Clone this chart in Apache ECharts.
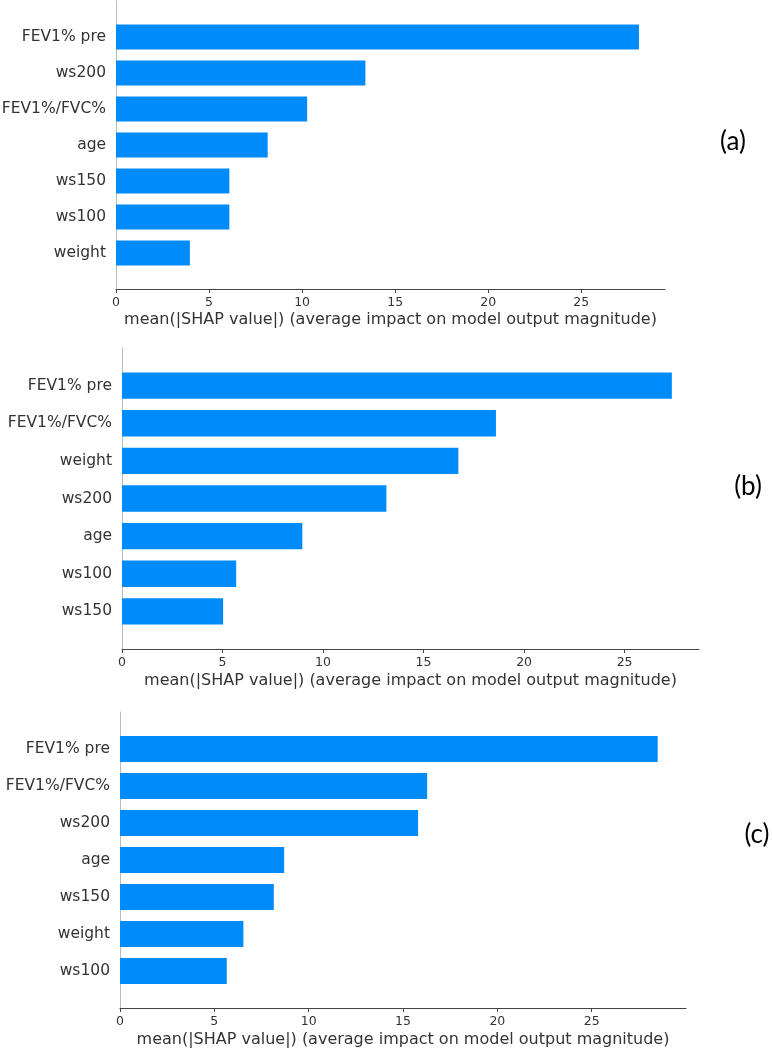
<!DOCTYPE html>
<html>
<head>
<meta charset="utf-8">
<script src="https://cdn.jsdelivr.net/npm/echarts@6/dist/echarts.min.js"></script>
<style>
html,body{margin:0;padding:0;background:#fff;}
#chart{width:772px;height:1052px;}
</style>
</head>
<body>
<div id="chart"></div>
<script>
// Panel (a) — listed top to bottom
var catsA = ['FEV1% pre', 'ws200', 'FEV1%/FVC%', 'age', 'ws150', 'ws100', 'weight'];
var valsA = [28.1, 13.4, 10.27, 8.15, 6.09, 6.09, 3.97];
// Panel (b)
var catsB = ['FEV1% pre', 'FEV1%/FVC%', 'weight', 'ws200', 'age', 'ws100', 'ws150'];
var valsB = [27.35, 18.6, 16.73, 13.15, 8.97, 5.68, 5.03];
// Panel (c)
var catsC = ['FEV1% pre', 'FEV1%/FVC%', 'ws200', 'age', 'ws150', 'weight', 'ws100'];
var valsC = [28.5, 16.28, 15.8, 8.7, 8.15, 6.54, 5.66];

var tickValues = [0, 5, 10, 15, 20, 25];
var xAxisName = 'mean(|SHAP value|) (average impact on model output magnitude)';
var panelLabels = ['(a)', '(b)', '(c)'];

var panels = [
  {cats: catsA, vals: valsA, max: 29.5, grid: {left: 116, top: 1, width: 549, height: 288}, nameGap: 23, lab: [733, 142]},
  {cats: catsB, vals: valsB, max: 28.7, grid: {left: 122, top: 348, width: 577, height: 301}, nameGap: 24, lab: [748, 487]},
  {cats: catsC, vals: valsC, max: 30.0, grid: {left: 120, top: 712, width: 566, height: 296}, nameGap: 24, lab: [757, 835]}
];

var textColor = '#333333';
var font = 'DejaVu Sans';
var option = {animation: false, grid: [], xAxis: [], yAxis: [], series: [], graphic: []};

panels.forEach(function (p, i) {
  // bottom-to-top order, padded with an empty slot above and below (matplotlib ylim)
  var cats = [' '].concat(p.cats.slice().reverse()).concat(['  ']);
  var vals = [null].concat(p.vals.slice().reverse()).concat([null]);
  var g = Object.assign({outerBoundsMode: 'none', containLabel: false}, p.grid);
  option.grid.push(g);
  option.xAxis.push({
    type: 'value', gridIndex: i, min: 0, max: p.max, interval: 5,
    axisLine: {show: true, lineStyle: {color: '#444', width: 1.2}},
    axisTick: {show: true, length: 4, lineStyle: {color: '#444'}, customValues: tickValues},
    axisLabel: {color: textColor, fontFamily: font, fontSize: 12.5, margin: 7, customValues: tickValues},
    splitLine: {show: false},
    name: xAxisName, nameLocation: 'middle', nameGap: p.nameGap,
    nameTextStyle: {color: textColor, fontFamily: font, fontSize: 16}
  });
  option.yAxis.push({
    type: 'category', gridIndex: i, data: cats, boundaryGap: false,
    axisLine: {show: true, lineStyle: {color: '#bbbbbb', width: 1}},
    axisTick: {show: false},
    axisLabel: {color: textColor, fontFamily: font, fontSize: 15.5, margin: 10, interval: 0},
    splitLine: {show: false}
  });
  option.series.push({
    type: 'bar', xAxisIndex: i, yAxisIndex: i, data: vals, barWidth: '70%',
    itemStyle: {color: '#008bfb'}, silent: true
  });
  option.graphic.push({
    type: 'text', x: p.lab[0], y: p.lab[1],
    style: {text: panelLabels[i], fill: '#000', font: '26px Lato', align: 'center', verticalAlign: 'middle'}
  });
});

var chart = echarts.init(document.getElementById('chart'), null, {renderer: 'canvas'});
chart.setOption(option);
</script>
</body>
</html>
